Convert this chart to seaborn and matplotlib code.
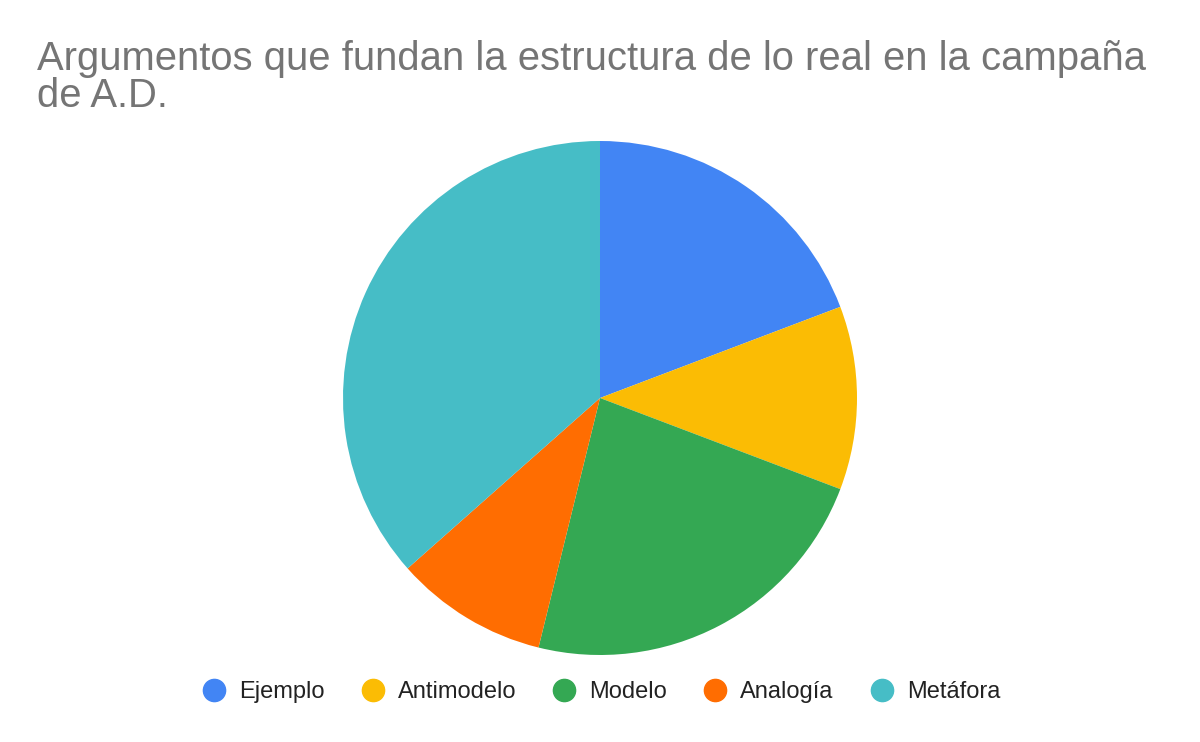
import matplotlib
matplotlib.use("Agg")
import matplotlib.pyplot as plt
from matplotlib.lines import Line2D
import seaborn as sns

categories = ["Ejemplo", "Antimodelo", "Modelo", "Analogía", "Metáfora"]
values = [10, 6, 12, 5, 19]
colors = ["#4285F4", "#FBBC04", "#34A853", "#FF6D01", "#46BDC6"]
title = "Argumentos que fundan la estructura de lo real en la campaña\nde A.D."

sns.set_theme(style="white")
plt.rcParams["font.family"] = ["Liberation Sans", "DejaVu Sans"]

fig = plt.figure(figsize=(12, 7.42), dpi=100)
cx, cy = 600 / 1200, 1 - 398 / 742
rw, rh = 257 / 1200, 257 / 742
ax = fig.add_axes([cx - rw, cy - rh, 2 * rw, 2 * rh])
ax.pie(values, colors=colors, startangle=90, counterclock=False, radius=1,
       wedgeprops=dict(linewidth=0))
ax.set_xlim(-1, 1)
ax.set_ylim(-1, 1)
ax.set_aspect("auto")
ax.axis("off")

fig.text(37 / 1200, 1 - 40 / 742, title, ha="left", va="top", fontsize=28.8,
         color="#757575", linespacing=0.97)

handles = [Line2D([0], [0], marker="o", linestyle="", markersize=16,
                  markerfacecolor=c, markeredgecolor=c) for c in colors]
fig.legend(handles, categories, loc="center", bbox_to_anchor=(0.5, 1 - 692 / 742),
           ncol=5, frameon=False, fontsize=17, handletextpad=0.45,
           columnspacing=1.45, handlelength=1.2, labelcolor="#222222")

fig.savefig("out.png", dpi=100, facecolor="white")
